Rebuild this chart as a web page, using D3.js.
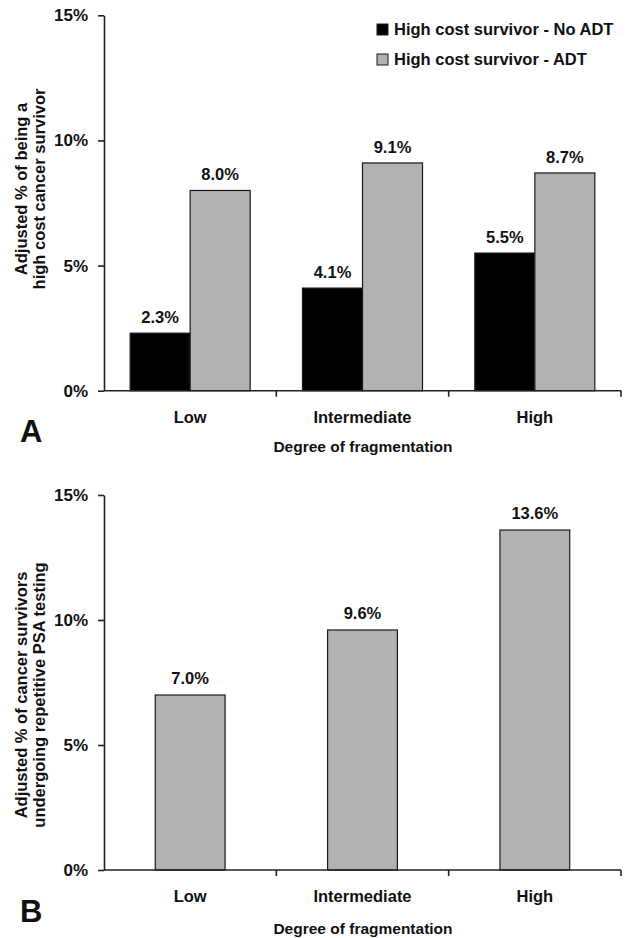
<!DOCTYPE html>
<html>
<head>
<meta charset="utf-8">
<script src="https://cdn.jsdelivr.net/npm/d3@7"></script>
<style>
  html, body { margin: 0; padding: 0; background: #fff; }
  svg { display: block; }
  text { font-family: "Liberation Sans", Arial, Helvetica, sans-serif; font-weight: bold; fill: #111; }
</style>
</head>
<body>
<svg id="chart" width="630" height="938"></svg>
<script>
// ---- Data ----
const categories = ["Low", "Intermediate", "High"];
const seriesNames = ["High cost survivor - No ADT", "High cost survivor - ADT"];
const noAdtValues = [2.3, 4.1, 5.5];
const adtValues = [8.0, 9.1, 8.7];
const psaValues = [7.0, 9.6, 13.6];
const yTickValues = [0, 5, 10, 15];
const panelATitle = ["Adjusted % of being a", "high cost cancer survivor"];
const panelBTitle = ["Adjusted % of cancer survivors", "undergoing repetitive PSA testing"];
const xTitle = "Degree of fragmentation";

// ---- Styles ----
const colors = ["#000000", "#b2b2b2"];
const axisColor = "#222";
const svg = d3.select("#chart");
const fmt = v => v.toFixed(1) + "%";

const left = 104, right = 621;

function drawAxes(g, x, y, titleLines, titleCY, letter, catBaseline, titleBaseline, letterBaseline) {
  // y axis
  const yAxis = d3.axisLeft(y).tickValues(yTickValues).tickFormat(d => d + "%")
    .tickSizeInner(6).tickSizeOuter(0).tickPadding(10);
  const ya = g.append("g").attr("transform", `translate(${left},0)`).call(yAxis);
  ya.select(".domain").attr("stroke", axisColor).attr("stroke-width", 1.6);
  ya.selectAll(".tick line").attr("stroke", axisColor).attr("stroke-width", 1.6);
  ya.selectAll(".tick text").style("font-size", "17px").attr("fill", "#111")
    .style("font-family", '"Liberation Sans", Arial, sans-serif').style("font-weight", "bold");

  // x axis: ticks at category boundaries
  const y0 = y(0);
  g.append("line").attr("x1", left).attr("x2", right).attr("y1", y0).attr("y2", y0)
    .attr("stroke", axisColor).attr("stroke-width", 1.6);
  const bounds = categories.map(c => x(c) + x.bandwidth());
  g.selectAll(".xtick").data(bounds).enter().append("line")
    .attr("x1", d => d).attr("x2", d => d).attr("y1", y0).attr("y2", y0 + 6)
    .attr("stroke", axisColor).attr("stroke-width", 1.6);
  g.selectAll(".xlab").data(categories).enter().append("text")
    .attr("x", d => x(d) + x.bandwidth() / 2).attr("y", catBaseline)
    .attr("text-anchor", "middle").style("font-size", "16.5px").text(d => d);

  // x title
  g.append("text").attr("x", (left + right) / 2 + 0.5).attr("y", titleBaseline)
    .attr("text-anchor", "middle").style("font-size", "15.5px").text(xTitle);

  // y title (two lines)
  titleLines.forEach((t, i) => {
    g.append("text").attr("transform", `translate(${27 + i * 18},${titleCY}) rotate(-90)`)
      .attr("text-anchor", "middle").style("font-size", "16.5px").text(t);
  });

  // panel letter
  g.append("text").attr("x", 20).attr("y", letterBaseline)
    .style("font-size", "31px").text(letter);
}

// ---- Panel A ----
const gA = svg.append("g");
const xA = d3.scaleBand().domain(categories).range([left, right]).paddingInner(0).paddingOuter(0);
const yA = d3.scaleLinear().domain([0, 15]).range([390.7, 15.3]);
const xSub = d3.scaleBand().domain([0, 1]).range([0, xA.bandwidth()]).paddingInner(0).paddingOuter(0.436);

const dataA = categories.map((c, i) => ({ cat: c, vals: [noAdtValues[i], adtValues[i]] }));
const groups = gA.selectAll(".grp").data(dataA).enter().append("g")
  .attr("transform", d => `translate(${xA(d.cat)},0)`);
groups.selectAll("rect").data(d => d.vals).enter().append("rect")
  .attr("x", (v, j) => xSub(j)).attr("width", xSub.bandwidth())
  .attr("y", v => yA(v)).attr("height", v => yA(0) - yA(v))
  .attr("fill", (v, j) => colors[j]).attr("stroke", "#1a1a1a").attr("stroke-width", 1.2);
groups.selectAll(".val").data(d => d.vals).enter().append("text")
  .attr("x", (v, j) => xSub(j) + xSub.bandwidth() / 2).attr("y", v => yA(v) - 10)
  .attr("text-anchor", "middle").style("font-size", "16.5px").text(v => fmt(v));

drawAxes(gA, xA, yA, panelATitle, 189, "A", 423, 452, 442);

// legend
const legend = gA.append("g");
seriesNames.forEach((name, i) => {
  legend.append("rect").attr("x", 377).attr("y", 24 + i * 30).attr("width", 11).attr("height", 11)
    .attr("fill", colors[i]).attr("stroke", "#1a1a1a").attr("stroke-width", 1);
  legend.append("text").attr("x", 394).attr("y", 34.5 + i * 30)
    .style("font-size", "16.5px").text(name);
});

// ---- Panel B ----
const gB = svg.append("g");
const xB = d3.scaleBand().domain(categories).range([left, right]).paddingInner(0).paddingOuter(0);
const xBbar = d3.scaleBand().domain(categories).range([left, right]).paddingInner(0.595).paddingOuter(0.2975);
const yB = d3.scaleLinear().domain([0, 15]).range([870, 495]);

gB.selectAll(".bar").data(categories).enter().append("rect")
  .attr("x", (c) => xBbar(c)).attr("width", xBbar.bandwidth())
  .attr("y", (c, i) => yB(psaValues[i])).attr("height", (c, i) => yB(0) - yB(psaValues[i]))
  .attr("fill", colors[1]).attr("stroke", "#1a1a1a").attr("stroke-width", 1.2);
gB.selectAll(".val").data(categories).enter().append("text")
  .attr("x", c => xBbar(c) + xBbar.bandwidth() / 2).attr("y", (c, i) => yB(psaValues[i]) - 11)
  .attr("text-anchor", "middle").style("font-size", "16.5px").text((c, i) => fmt(psaValues[i]));

drawAxes(gB, xB, yB, panelBTitle, 695, "B", 902, 934, 922);
</script>
</body>
</html>
